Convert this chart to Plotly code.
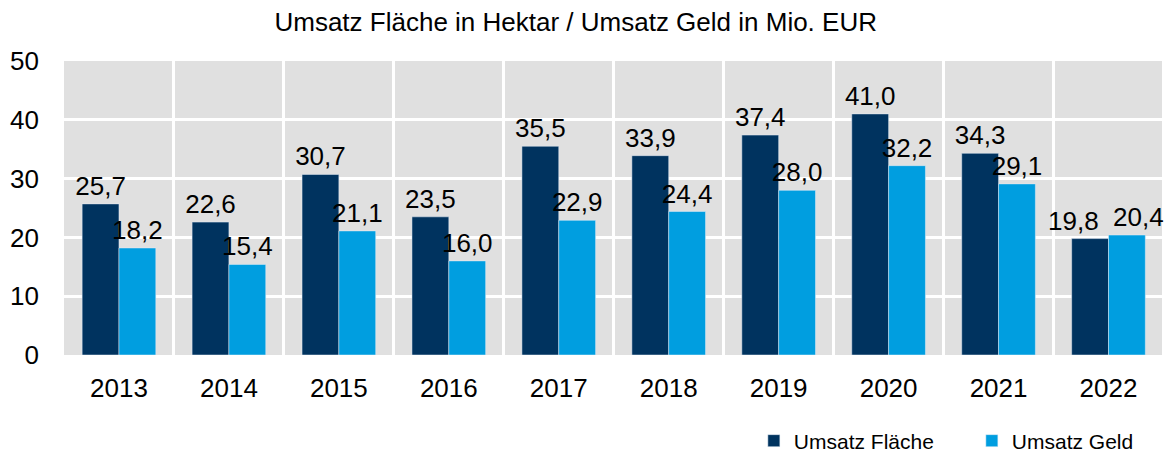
import plotly.graph_objects as go

years = ["2013", "2014", "2015", "2016", "2017", "2018", "2019", "2020", "2021", "2022"]
flaeche = [25.7, 22.6, 30.7, 23.5, 35.5, 33.9, 37.4, 41.0, 34.3, 19.8]
geld = [18.2, 15.4, 21.1, 16.0, 22.9, 24.4, 28.0, 32.2, 29.1, 20.4]


def de(v):
    return f"{v:.1f}".replace(".", ",")


# labels of the last year sit apart in the original -> drawn as annotations below
text_fl = [de(v) for v in flaeche]
text_ge = [de(v) for v in geld]
text_fl[-1] = ""
text_ge[-1] = ""

fig = go.Figure()
fig.add_trace(go.Bar(x=years, y=flaeche, name="Umsatz Fläche", marker_color="#00335f",
                     text=text_fl, textposition="outside",
                     textfont=dict(size=26, color="black"), cliponaxis=False))
fig.add_trace(go.Bar(x=years, y=geld, name="Umsatz Geld", marker_color="#009ee0",
                     text=text_ge, textposition="outside",
                     textfont=dict(size=26, color="black"), cliponaxis=False))

# numeric-looking categories: annotations need the category index
last = len(years) - 1
for val, shift in [(flaeche[last], -35), (geld[last], 30)]:
    fig.add_annotation(x=last, y=val, text=de(val), showarrow=False,
                       xanchor="center", yanchor="bottom", xshift=shift, yshift=1,
                       font=dict(size=26, color="black"))

# page body adds 8px offset, margins compensate for it
fig.update_layout(
    title=dict(text="Umsatz Fläche in Hektar / Umsatz Geld in Mio. EUR", x=0.484, xanchor="center",
               y=0.97, yanchor="middle", font=dict(size=26, color="black"), automargin=False),
    width=1173,
    height=454,
    barmode="group",
    bargap=0.33,
    bargroupgap=0,
    font=dict(family="Liberation Sans, Arial", color="black"),
    paper_bgcolor="white",
    plot_bgcolor="#e0e0e0",
    margin=dict(l=56, r=15, t=53, b=107, autoexpand=False),
    uniformtext=dict(minsize=26, mode="show"),
    legend=dict(orientation="h", x=0.626, xanchor="left", y=-0.2925, yanchor="middle",
                font=dict(size=21), itemwidth=30, traceorder="normal", entrywidth=173),
    showlegend=True,
)
fig.update_xaxes(type="category", tickson="boundaries", showgrid=True, gridcolor="white", gridwidth=3,
                 ticks="", tickfont=dict(size=26), ticklabelstandoff=15, automargin=False)
fig.update_yaxes(range=[0, 50], dtick=10, showgrid=True, gridcolor="white", gridwidth=3,
                 zeroline=False, tickfont=dict(size=26), ticklabelstandoff=24, automargin=False)

fig.write_html("out.html")
